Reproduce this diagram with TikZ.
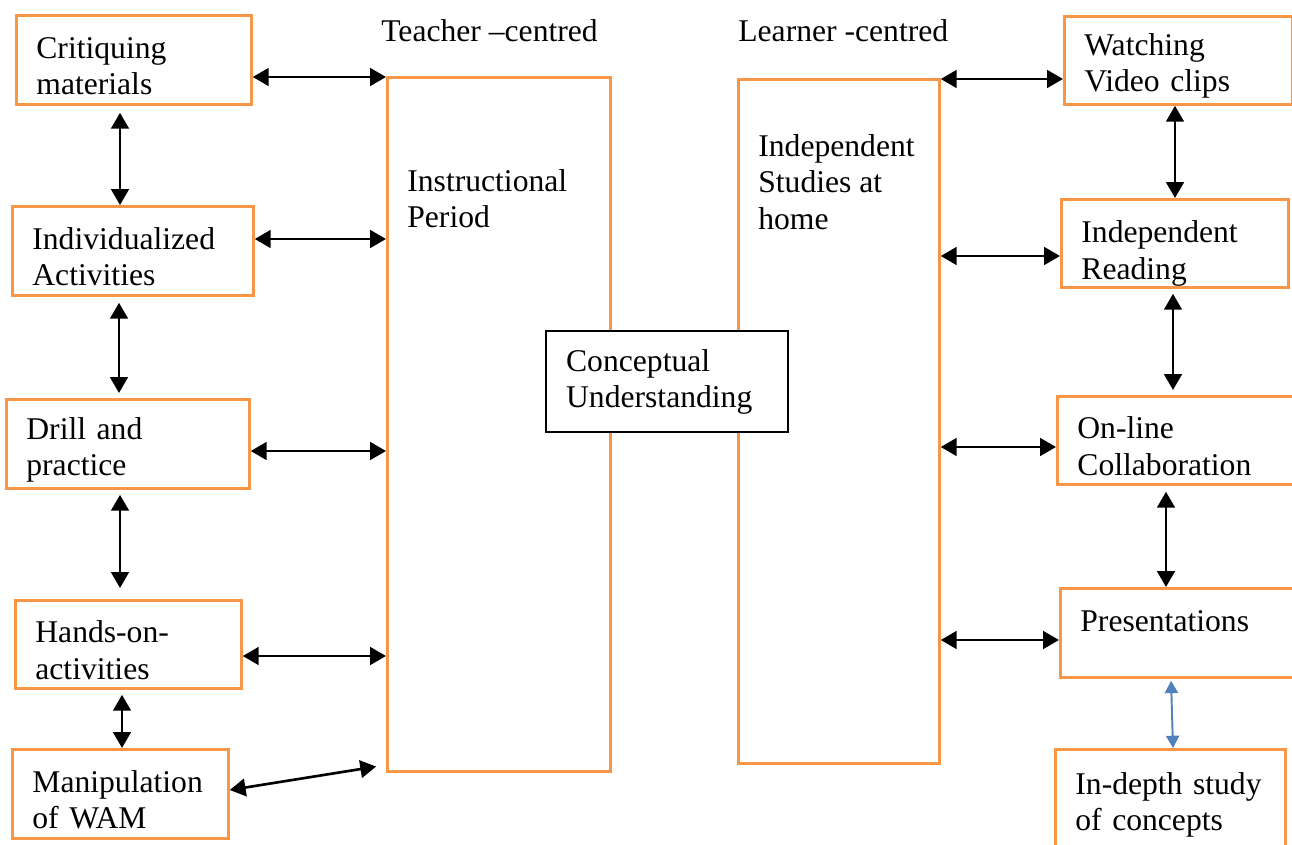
\documentclass[tikz,border=0pt]{standalone}
\usepackage{fontspec}
\setmainfont{Liberation Serif}
\usetikzlibrary{arrows.meta,positioning}
\definecolor{boxorange}{HTML}{F79646}
\definecolor{linkblue}{HTML}{4F81BD}

\begin{document}
\begin{tikzpicture}[x=0.02cm, y=-0.02cm,
  every node/.style={font=\fontsize{18}{20.7}\selectfont},
  column/.style={draw=boxorange, line width=1.6pt, anchor=north west, inner sep=0pt},
  box/.style={column, align=left, inner xsep=0.4cm, execute at begin node={\rule{0pt}{19pt}}},
  link/.style={{Triangle[length=9pt,width=10pt]}-{Triangle[length=9pt,width=10pt]}, line width=1.5pt},
  bluelink/.style={{Triangle[length=7pt,width=7.5pt]}-{Triangle[length=7pt,width=7.5pt]}, line width=1.1pt, linkblue}]

	\clip (0,0) rectangle (1292,845);
	
	% Headings
	\node[anchor=north west, inner sep=0pt] (teachH) at (381,19) {Teacher –centred};
	\node[anchor=north west, inner sep=0pt] (learnH) at (738,19) {Learner -centred};
	
	% Teacher-centred activities
	\node[box, text width=3.9cm, minimum height=1.78cm] (crit) at (15,14) {Critiquing\\materials};
	\node[box, text width=4.02cm, minimum height=1.78cm] (indiv) at (11,205) {Individualized\\Activities};
	\node[box, text width=4.06cm, minimum height=1.78cm] (drill) at (5,398) {Drill and\\practice};
	\node[box, text width=3.72cm, minimum height=1.76cm] (hands) at (14,599) {Hands-on-\\activities};
	\node[box, text width=3.52cm, minimum height=1.78cm] (manip) at (11,748) {Manipulation\\of WAM};
	
	% Two big columns
	\node[column, minimum width=4.46cm, minimum height=13.88cm] (teach) at (386,76) {};
	\node[column, minimum width=4.02cm, minimum height=13.68cm] (learn) at (737,78) {};
	\node[anchor=north west, align=left, inner sep=0pt] (teachT) at (407,169) {Instructional\\Period};
	\node[anchor=north west, align=left, inner sep=0pt] (learnT) at (758,134) {Independent\\Studies at\\home};
	
	% Centre box
	\node[draw, fill=white, line width=1.3pt, anchor=north west, align=left, text width=4.04cm, inner xsep=0.4cm, inner ysep=0pt, minimum height=2.02cm] (concept) at (545,330) {Conceptual\\Understanding};
	
	% Learner-centred activities
	\node[box, text width=3.76cm, minimum height=1.76cm] (watch) at (1063,15) {Watching\\Video clips};
	\node[box, text width=3.74cm, minimum height=1.76cm, execute at begin node={\rule{0pt}{24pt}}] (read) at (1060,198) {Independent\\Reading};
	\node[box, text width=4.4cm, minimum height=1.76cm] (online) at (1056,395) {On-line\\Collaboration};
	\node[box, text width=4.4cm, minimum height=1.78cm] (pres) at (1059,587) {Presentations\\~};
	\node[box, text width=3.8cm, minimum height=2cm, execute at begin node={}] (indepth) at (1054,748) {In-depth study\\of concepts};
	
	% Links to the teacher column
	\draw[link] (crit.east |- 0,77) -- (teach.west |- 0,77);
	\draw[link] (indiv.east |- 0,239) -- (teach.west |- 0,239);
	\draw[link] (drill.east |- 0,451) -- (teach.west |- 0,451);
	\draw[link] (hands.east |- 0,656) -- (teach.west |- 0,656);
	\draw[link, shorten >=0.2cm] (manip.east |- 0,790) -- (teach.west |- 0,765);
	
	% Links down the left
	\draw[link, shorten <=0.14cm] (crit.south -| 120,0) -- (indiv.north -| 120,0);
	\draw[link, shorten <=0.12cm, shorten >=0.1cm] (indiv.south -| 119,0) -- (drill.north -| 119,0);
	\draw[link, shorten <=0.1cm, shorten >=0.22cm] (drill.south -| 120,0) -- (hands.north -| 120,0);
	\draw[link, shorten <=0.1cm] (hands.south -| 122,0) -- (manip.north -| 122,0);
	
	% Links to the learner column
	\draw[link] (learn.east |- 0,79) -- (watch.west |- 0,79);
	\draw[link] (learn.east |- 0,256) -- (read.west |- 0,256);
	\draw[link] (learn.east |- 0,447) -- (online.west |- 0,447);
	\draw[link] (learn.east |- 0,640) -- (pres.west |- 0,640);
	
	% Links down the right
	\draw[link] (watch.south -| 1175,0) -- (read.north -| 1175,0);
	\draw[link, shorten <=0.1cm, shorten >=0.1cm] (read.south -| 1173,0) -- (online.north -| 1173,0);
	\draw[link, shorten <=0.12cm] (online.south -| 1166,0) -- (pres.north -| 1166,0);
	\draw[bluelink, shorten <=0.04cm] (pres.south -| 1171,0) -- (indepth.north -| 1173,0);
	
\end{tikzpicture}
\end{document}
